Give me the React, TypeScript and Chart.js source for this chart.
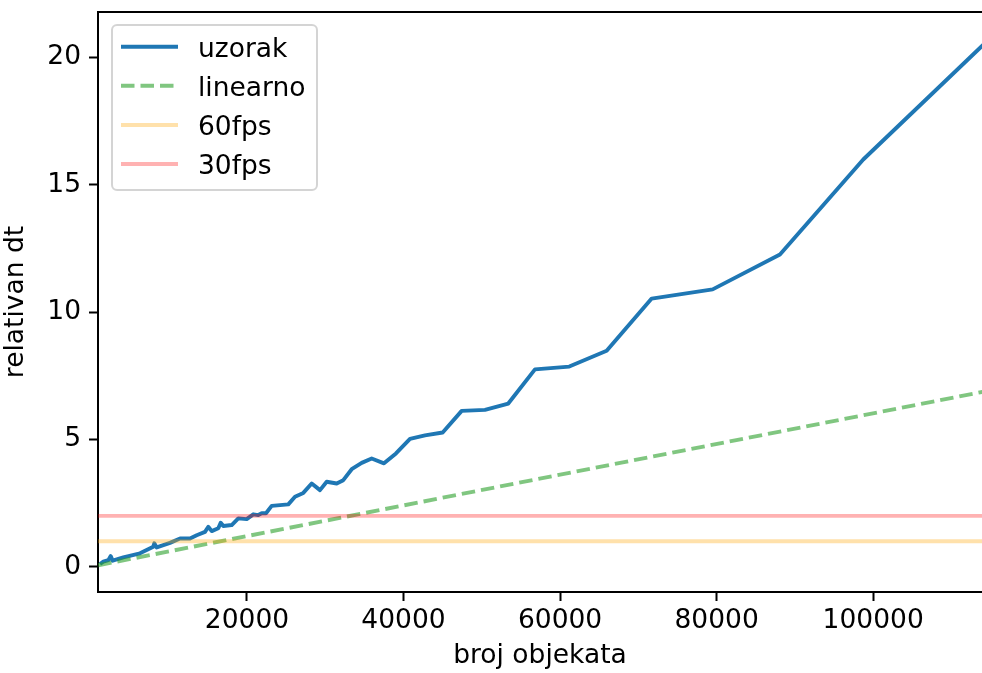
import React, { useEffect, useRef } from "react";
import { Chart, registerables } from "chart.js";

Chart.register(...registerables);

// ---- data ----
const sampleX = [
  1226, 1648, 2287, 2593, 2849, 4203, 6336, 8035, 8163, 8469, 10168, 11446,
  12723, 13579, 14639, 15061, 15495, 16338, 16645, 16977, 18050, 18893, 19966,
  20809, 21448, 21882, 22431, 23159, 25280, 26136, 27196, 28269, 29329, 30185,
  31462, 32305, 33378, 34656, 35933, 37504, 39037, 40826, 42742, 45003, 47430,
  50406, 53383, 56793, 61175, 65952, 71700, 79490, 88090, 98730, 114900,
];
const sampleY = [
  0.11, 0.2, 0.26, 0.42, 0.24, 0.37, 0.53, 0.79, 0.92, 0.76, 0.94, 1.11,
  1.11, 1.24, 1.37, 1.57, 1.4, 1.51, 1.73, 1.6, 1.64, 1.9, 1.87,
  2.06, 2.03, 2.1, 2.1, 2.39, 2.45, 2.75, 2.9, 3.27, 3.01, 3.34,
  3.27, 3.4, 3.83, 4.08, 4.25, 4.06, 4.45, 5.02, 5.16, 5.27, 6.12,
  6.16, 6.41, 7.75, 7.86, 8.48, 10.53, 10.89, 12.26, 15.99, 20.74,
];
const linearX = [1000, 115000];
const linearY = [0.06, 6.93];
const fps60Value = 1;
const fps30Value = 2;
const xTickValues = [20000, 40000, 60000, 80000, 100000];
const yTickValues = [0, 5, 10, 15, 20];
const seriesLabels = ["uzorak", "linearno", "60fps", "30fps"];
const X_MIN = 970;
const X_MAX = 113900;
const Y_MIN = -0.99;
const Y_MAX = 21.78;

const FONT = "'DejaVu Sans', sans-serif";
const FS = 26.5;

const framePlugin = {
  id: "frameAndLegend",
  afterDraw(chart: any) {
    const ctx = chart.ctx;
    const ca = chart.chartArea;
    ctx.save();
    // top spine
    ctx.strokeStyle = "#000";
    ctx.lineWidth = 2;
    ctx.beginPath();
    ctx.moveTo(ca.left - 1, ca.top);
    ctx.lineTo(ca.right, ca.top);
    ctx.stroke();

    // legend box
    const bx = ca.left + 14;
    const by = ca.top + 13;
    const bw = 205;
    const bh = 165;
    ctx.beginPath();
    (ctx as any).roundRect(bx, by, bw, bh, 5);
    ctx.fillStyle = "rgba(255,255,255,0.8)";
    ctx.fill();
    ctx.lineWidth = 2;
    ctx.strokeStyle = "rgba(204,204,204,0.85)";
    ctx.stroke();

    const rows = [21.7, 60.7, 100, 139];
    chart.data.datasets.forEach((ds: any, i: number) => {
      const ry = by + rows[i];
      ctx.save();
      ctx.strokeStyle = ds.borderColor;
      ctx.lineWidth = ds.borderWidth;
      ctx.setLineDash(ds.borderDash || []);
      ctx.beginPath();
      ctx.moveTo(bx + 9, ry);
      ctx.lineTo(bx + 66, ry);
      ctx.stroke();
      ctx.restore();
      ctx.fillStyle = "#000";
      ctx.font = `${FS}px ${FONT}`;
      ctx.textBaseline = "alphabetic";
      ctx.textAlign = "left";
      ctx.fillText(ds.label, bx + 86, ry + 10);
    });
    ctx.restore();
  },
};

export default function App() {
  const ref = useRef<HTMLCanvasElement | null>(null);

  useEffect(() => {
    document.body.style.margin = "0";
    const canvas = ref.current;
    if (!canvas) return;

    const sample = sampleX.map((x, i) => ({ x, y: sampleY[i] }));
    const linear = linearX.map((x, i) => ({ x, y: linearY[i] }));
    const fps60 = [X_MIN, X_MAX].map((x) => ({ x, y: fps60Value }));
    const fps30 = [X_MIN, X_MAX].map((x) => ({ x, y: fps30Value }));

    const chart = new Chart(canvas, {
      type: "line",
      data: {
        datasets: [
          {
            label: seriesLabels[0],
            data: sample,
            borderColor: "#1f77b4",
            borderWidth: 3.9,
            pointRadius: 0,
            borderJoinStyle: "round",
            order: 4,
          },
          {
            label: seriesLabels[1],
            data: linear,
            borderColor: "rgba(44,160,44,0.6)",
            borderWidth: 3.9,
            borderDash: [13.5, 6],
            pointRadius: 0,
            order: 3,
          },
          {
            label: seriesLabels[2],
            data: fps60,
            borderColor: "rgba(255,165,0,0.33)",
            borderWidth: 3.9,
            pointRadius: 0,
            order: 2,
          },
          {
            label: seriesLabels[3],
            data: fps30,
            borderColor: "rgba(255,0,0,0.3)",
            borderWidth: 3.9,
            pointRadius: 0,
            order: 1,
          },
        ] as any,
      },
      options: {
        responsive: false,
        animation: false,
        devicePixelRatio: 1,
        layout: { padding: { top: 12, left: 0, right: 0, bottom: 0 } },
        plugins: {
          legend: { display: false },
          tooltip: { enabled: false },
          title: { display: false },
        },
        elements: { line: { tension: 0 } },
        scales: {
          x: {
            type: "linear",
            min: X_MIN,
            max: X_MAX,
            afterBuildTicks: (s: any) => {
              s.ticks = xTickValues.map((v) => ({ value: v }));
            },
            afterFit: (s: any) => {
              s.height = 81;
              s.paddingLeft = 0;
              s.paddingRight = 0;
            },
            ticks: {
              font: { family: FONT, size: FS },
              color: "#000",
              padding: 4,
              maxRotation: 0,
              autoSkip: false,
              callback: (v: any) => String(v),
            },
            grid: {
              drawOnChartArea: false,
              drawTicks: true,
              tickLength: 9,
              tickWidth: 2,
              tickColor: "#000",
            },
            border: { display: true, color: "#000", width: 2 },
            title: {
              display: true,
              text: "broj objekata",
              color: "#000",
              font: { family: FONT, size: FS },
              padding: { top: 0, bottom: 1 },
            },
          },
          y: {
            type: "linear",
            min: Y_MIN,
            max: Y_MAX,
            afterBuildTicks: (s: any) => {
              s.ticks = yTickValues.map((v) => ({ value: v }));
            },
            afterFit: (s: any) => {
              s.width = 98;
              s.paddingTop = 0;
              s.paddingBottom = 0;
            },
            ticks: {
              font: { family: FONT, size: FS },
              color: "#000",
              padding: 8,
              autoSkip: false,
              callback: (v: any) => String(v),
            },
            grid: {
              drawOnChartArea: false,
              drawTicks: true,
              tickLength: 9,
              tickWidth: 2,
              tickColor: "#000",
            },
            border: { display: true, color: "#000", width: 2 },
            title: {
              display: true,
              text: "relativan dt",
              color: "#000",
              font: { family: FONT, size: FS },
              padding: { top: 0, bottom: 0 },
            },
          },
        },
      } as any,
      plugins: [framePlugin],
    });

    return () => chart.destroy();
  }, []);

  return (
    <div style={{ position: "fixed", left: 0, top: 0, width: 982, height: 673, background: "#fff" }}>
      <canvas ref={ref} width={982} height={673} style={{ display: "block" }} />
    </div>
  );
}
